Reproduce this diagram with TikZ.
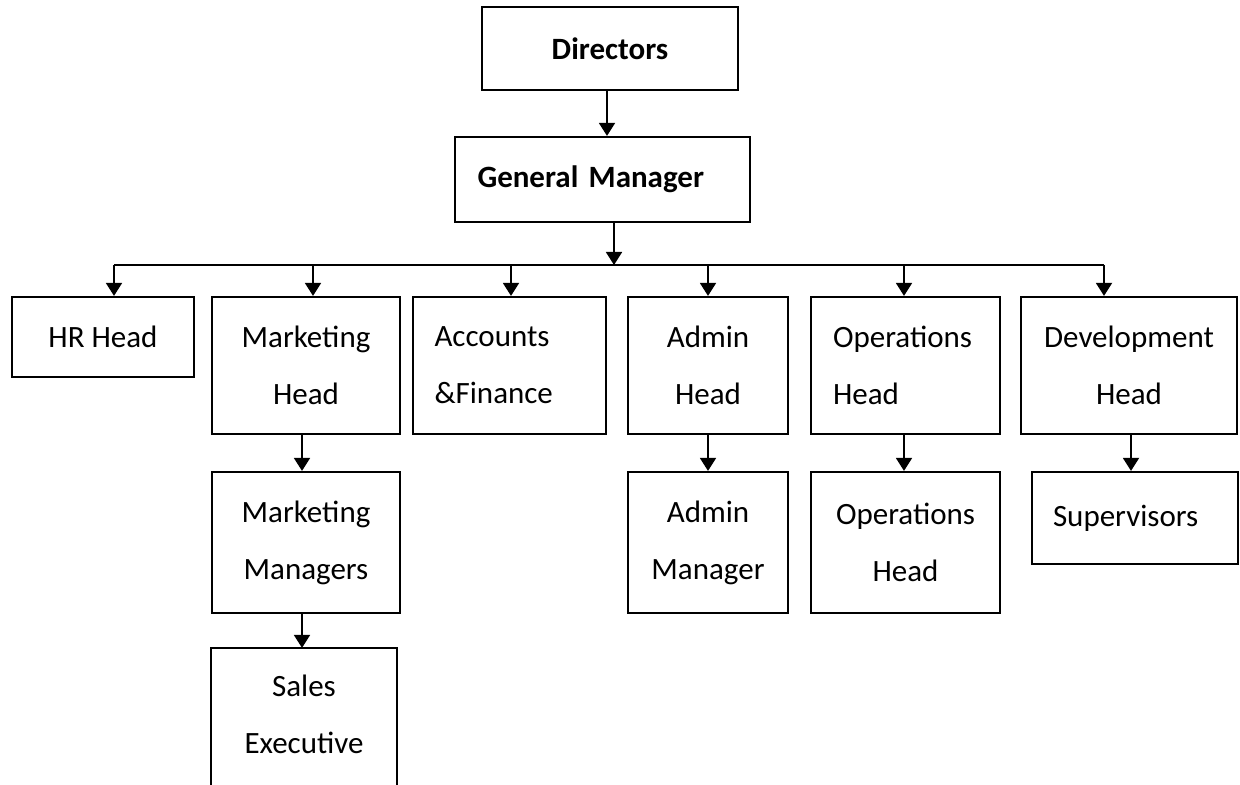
\documentclass[tikz,border=0pt]{standalone}
\usepackage{fontspec}
\setmainfont{Carlito}
\usepackage{tikz}
\usetikzlibrary{arrows.meta}

\begin{document}
\begin{tikzpicture}[x=0.5pt, y=-0.5pt,
    box/.style={draw, line width=1.1pt, inner sep=0pt, align=center,
      font=\fontsize{15.5}{28.5}\selectfont},
    arr/.style={line width=0.9pt, -{Triangle[length=6.5pt,width=8pt]}}]
    \path[use as bounding box] (0,0) rectangle (1240,785);
    \clip (0,0) rectangle (1240,785);
    % top of the chart
    \node[box, minimum width=128pt, minimum height=41.5pt] (dir) at (610,48.5) {\textbf{Directors}};
    \node[box, minimum width=147.5pt, minimum height=42.5pt, text width=125pt, align=left] (gm) at (602.5,179.5) {\textbf{General Manager}};
    % heads
    \node[box, minimum width=91pt, minimum height=40pt] (hr) at (103,337) {HR Head};
    \node[box, minimum width=94pt, minimum height=68.5pt] (mkt) at (306,365.5) {Marketing\\Head};
    \node[box, minimum width=96.5pt, minimum height=68.5pt, text width=75pt, align=left] (acc) at (509.5,365.5) {Accounts\\\&Finance};
    \node[box, minimum width=80pt, minimum height=68.5pt] (adm) at (708,365.5) {Admin\\Head};
    \node[box, minimum width=94.5pt, minimum height=68.5pt, text width=72.5pt, align=left] (ops) at (905.5,365.5) {Operations\\Head};
    \node[box, minimum width=108pt, minimum height=68.5pt] (dev) at (1129,365.5) {Development\\Head};
    % below the heads
    \node[box, minimum width=94pt, minimum height=70.5pt] (mm) at (306,542.5) {Marketing\\Managers};
    \node[box, draw=none, minimum width=92pt, minimum height=65.5pt] (sales) at (304,714.5) {Sales\\Executive};
    \node[box, minimum width=80pt, minimum height=70.5pt] (am) at (708,542.5) {Admin\\Manager};
    \node[box, minimum width=94.5pt, minimum height=70.5pt] (oh) at (905.5,542.5) {Operations\\Head};
    \node[box, minimum width=103pt, minimum height=46pt, text width=82pt, align=left] (sup) at (1135,518) {Supervisors};
    \draw[line width=1.1pt] ([yshift=-20pt]sales.south west) -- (sales.north west) -- (sales.north east) -- ([yshift=-20pt]sales.south east);
    % connectors
    \draw[arr] ([xshift=-1.5pt]dir.south) -- ([xshift=-1.5pt]dir.south |- gm.north);
    \foreach \n/\x in {hr/114, mkt/313, acc/511, adm/708, ops/904, dev/1104}
      \coordinate (b-\n) at (\x,265);
    \draw[arr] ([xshift=5.75pt]gm.south) -- ([xshift=5.75pt]gm.south |- b-hr);
    \draw[line width=0.9pt] (b-hr) -- (b-dev);
    \foreach \n in {hr, mkt, acc, adm, ops, dev}
      \draw[arr] (b-\n) -- (b-\n |- \n.north);
    \draw[arr] ([xshift=-2pt]mkt.south) -- ([xshift=-2pt]mkt.south |- mm.north);
    \draw[arr] ([xshift=-2pt]mm.south) -- ([xshift=-2pt]mm.south |- sales.north);
    \draw[arr] (adm.south) -- (am.north);
    \draw[arr] ([xshift=-0.75pt]ops.south) -- ([xshift=-0.75pt]ops.south |- oh.north);
    \draw[arr] ([xshift=1pt]dev.south) -- ([xshift=1pt]dev.south |- sup.north);
  \end{tikzpicture}
\end{document}
